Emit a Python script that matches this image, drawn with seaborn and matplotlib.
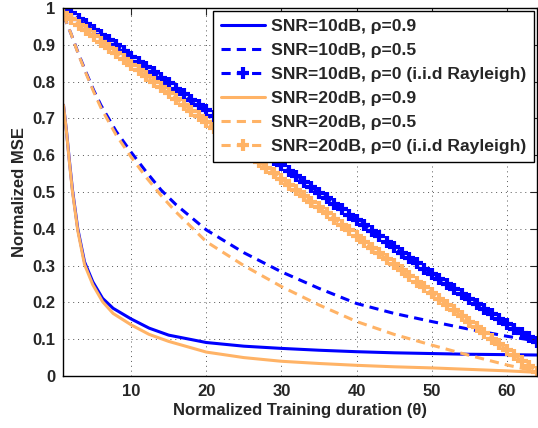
import numpy as np
import pandas as pd
import matplotlib
matplotlib.use("Agg")
from matplotlib import pyplot as plt
import seaborn as sns

# values
x_solid = [1, 1.4, 1.8, 2.2, 2.9, 3.8, 4.9, 6.2, 7.6, 10, 12.4, 15, 20, 25, 30, 35, 40, 45, 50, 55, 60, 64]
snr10_r09 = [0.736, 0.665, 0.582, 0.505, 0.400, 0.310, 0.256, 0.211, 0.184, 0.155, 0.130, 0.111, 0.091, 0.081,
             0.075, 0.070, 0.066, 0.063, 0.061, 0.059, 0.058, 0.057]
snr20_r09 = [0.736, 0.663, 0.578, 0.500, 0.395, 0.303, 0.248, 0.202, 0.170, 0.139, 0.113, 0.094, 0.065, 0.050,
             0.040, 0.034, 0.029, 0.025, 0.022, 0.018, 0.014, 0.010]

x_dash = [1, 2, 3, 4, 5, 6, 8, 10, 12, 14, 16, 20, 25, 30, 35, 40, 45, 50, 55, 60, 64]
snr10_r05 = [0.980, 0.930, 0.875, 0.825, 0.777, 0.735, 0.665, 0.608, 0.555, 0.505, 0.465, 0.397, 0.335, 0.283,
             0.238, 0.197, 0.170, 0.148, 0.127, 0.108, 0.095]
snr20_r05 = [0.980, 0.930, 0.873, 0.822, 0.773, 0.728, 0.655, 0.595, 0.540, 0.490, 0.445, 0.365, 0.300, 0.243,
             0.193, 0.148, 0.113, 0.084, 0.056, 0.030, 0.012]

x_iid = list(range(1, 65))
snr10_r0 = [1.000, 0.985, 0.970, 0.956, 0.941, 0.927, 0.912, 0.898, 0.883, 0.868,
            0.854, 0.839, 0.825, 0.810, 0.795, 0.781, 0.766, 0.751, 0.737, 0.722,
            0.707, 0.692, 0.677, 0.662, 0.648, 0.633, 0.618, 0.603, 0.588, 0.573,
            0.558, 0.543, 0.528, 0.513, 0.498, 0.483, 0.468, 0.453, 0.438, 0.423,
            0.409, 0.394, 0.379, 0.364, 0.350, 0.335, 0.321, 0.306, 0.292, 0.278,
            0.264, 0.250, 0.236, 0.222, 0.208, 0.195, 0.181, 0.168, 0.155, 0.142,
            0.129, 0.117, 0.105, 0.093]
snr20_r0 = [0.985, 0.970, 0.954, 0.939, 0.923, 0.908, 0.892, 0.877, 0.861, 0.846,
            0.830, 0.815, 0.799, 0.784, 0.768, 0.753, 0.737, 0.721, 0.706, 0.690,
            0.675, 0.659, 0.644, 0.628, 0.613, 0.597, 0.582, 0.566, 0.551, 0.535,
            0.520, 0.504, 0.489, 0.473, 0.458, 0.442, 0.427, 0.411, 0.396, 0.380,
            0.365, 0.349, 0.334, 0.318, 0.303, 0.287, 0.272, 0.256, 0.241, 0.225,
            0.210, 0.194, 0.179, 0.163, 0.148, 0.132, 0.117, 0.101, 0.086, 0.071,
            0.056, 0.041, 0.026, 0.012]

labels = ["SNR=10dB, \u03c1=0.9", "SNR=10dB, \u03c1=0.5", "SNR=10dB, \u03c1=0 (i.i.d Rayleigh)",
          "SNR=20dB, \u03c1=0.9", "SNR=20dB, \u03c1=0.5", "SNR=20dB, \u03c1=0 (i.i.d Rayleigh)"]
xticks = [10, 20, 30, 40, 50, 60]
yticks = [0, 0.1, 0.2, 0.3, 0.4, 0.5, 0.6, 0.7, 0.8, 0.9, 1]
ytick_labels = ["0", "0.1", "0.2", "0.3", "0.4", "0.5", "0.6", "0.7", "0.8", "0.9", "1"]

blue = "#0000ff"
orange = "#ffb366"

sns.set_style("white")
plt.rcParams['font.family'] = ['Liberation Sans', 'DejaVu Sans']
plt.rcParams['font.weight'] = 'bold'

fig = plt.figure(figsize=(5.38, 4.28), dpi=100)
ax = fig.add_axes([0.118, 0.1215, 0.880, 0.86])

dash = (0, (3.0, 2.0))
series = [
    (x_solid, snr10_r09, blue, "-", None),
    (x_dash, snr10_r05, blue, dash, None),
    (x_iid, snr10_r0, blue, dash, "+"),
    (x_solid, snr20_r09, orange, "-", None),
    (x_dash, snr20_r05, orange, dash, None),
    (x_iid, snr20_r0, orange, dash, "+"),
]
for (xs, ys, c, ls, mk), lab in zip(series, labels):
    sns.lineplot(x=xs, y=ys, ax=ax, color=c, linewidth=2.2, label=lab, estimator=None, sort=False)
    line = ax.lines[-1]
    line.set_linestyle(ls)
    if mk:
        line.set_marker(mk)
        line.set_markersize(8)
        line.set_markeredgewidth(3)
        line.set_markeredgecolor(c)

ax.set_xlim(1, 64)
ax.set_ylim(0, 1)
ax.set_xticks(xticks)
ax.set_yticks(yticks)
ax.set_yticklabels(ytick_labels)
ax.grid(True, linestyle=(0, (1, 4)), color="#555555", linewidth=0.7)
ax.tick_params(direction="in", length=5, width=0.8, top=True, right=True, labelsize=12, pad=6)
for s in ax.spines.values():
    s.set_color("black")
    s.set_linewidth(1.0)
ax.set_xlabel("Normalized Training duration (\u03b8)", fontsize=12, fontweight="bold", labelpad=3)
ax.set_ylabel("Normalized MSE", fontsize=12, fontweight="bold", labelpad=4)

leg = ax.legend(loc="upper right", fontsize=12.6, frameon=True, fancybox=False, framealpha=1,
                edgecolor="black", borderaxespad=0.15, labelspacing=0.5, handlelength=2.5,
                handletextpad=0.35, borderpad=0.45)
leg.get_frame().set_linewidth(1.0)
for t in leg.get_texts():
    t.set_fontweight("bold")

fig.savefig("out.png", dpi=100)
